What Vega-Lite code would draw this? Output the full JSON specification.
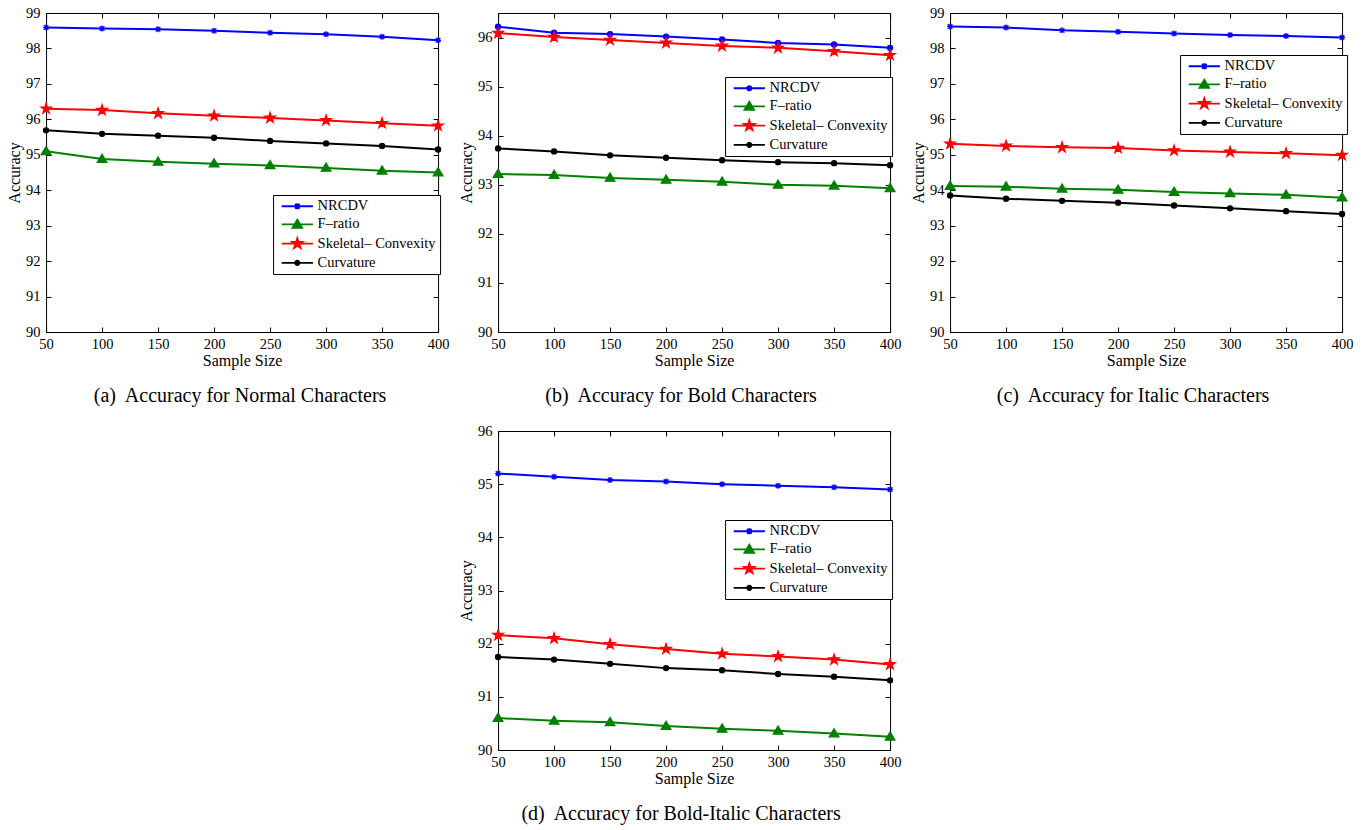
{
  "$schema": "https://vega.github.io/schema/vega-lite/v6.json",
  "background": "white",
  "padding": {"top": 5, "left": 6, "right": 5, "bottom": 5},
  "datasets": {
    "acc": [
      {"panel": "a", "series": "NRCDV", "size": 50, "accuracy": 98.59},
      {"panel": "a", "series": "NRCDV", "size": 100, "accuracy": 98.56},
      {"panel": "a", "series": "NRCDV", "size": 150, "accuracy": 98.54},
      {"panel": "a", "series": "NRCDV", "size": 200, "accuracy": 98.50},
      {"panel": "a", "series": "NRCDV", "size": 250, "accuracy": 98.44},
      {"panel": "a", "series": "NRCDV", "size": 300, "accuracy": 98.40},
      {"panel": "a", "series": "NRCDV", "size": 350, "accuracy": 98.33},
      {"panel": "a", "series": "NRCDV", "size": 400, "accuracy": 98.23},
      {"panel": "a", "series": "F–ratio", "size": 50, "accuracy": 95.10},
      {"panel": "a", "series": "F–ratio", "size": 100, "accuracy": 94.88},
      {"panel": "a", "series": "F–ratio", "size": 150, "accuracy": 94.80},
      {"panel": "a", "series": "F–ratio", "size": 200, "accuracy": 94.75},
      {"panel": "a", "series": "F–ratio", "size": 250, "accuracy": 94.70},
      {"panel": "a", "series": "F–ratio", "size": 300, "accuracy": 94.63},
      {"panel": "a", "series": "F–ratio", "size": 350, "accuracy": 94.55},
      {"panel": "a", "series": "F–ratio", "size": 400, "accuracy": 94.50},
      {"panel": "a", "series": "Skeletal– Convexity", "size": 50, "accuracy": 96.30},
      {"panel": "a", "series": "Skeletal– Convexity", "size": 100, "accuracy": 96.26},
      {"panel": "a", "series": "Skeletal– Convexity", "size": 150, "accuracy": 96.17},
      {"panel": "a", "series": "Skeletal– Convexity", "size": 200, "accuracy": 96.10},
      {"panel": "a", "series": "Skeletal– Convexity", "size": 250, "accuracy": 96.04},
      {"panel": "a", "series": "Skeletal– Convexity", "size": 300, "accuracy": 95.97},
      {"panel": "a", "series": "Skeletal– Convexity", "size": 350, "accuracy": 95.89},
      {"panel": "a", "series": "Skeletal– Convexity", "size": 400, "accuracy": 95.82},
      {"panel": "a", "series": "Curvature", "size": 50, "accuracy": 95.69},
      {"panel": "a", "series": "Curvature", "size": 100, "accuracy": 95.59},
      {"panel": "a", "series": "Curvature", "size": 150, "accuracy": 95.54},
      {"panel": "a", "series": "Curvature", "size": 200, "accuracy": 95.48},
      {"panel": "a", "series": "Curvature", "size": 250, "accuracy": 95.39},
      {"panel": "a", "series": "Curvature", "size": 300, "accuracy": 95.32},
      {"panel": "a", "series": "Curvature", "size": 350, "accuracy": 95.25},
      {"panel": "a", "series": "Curvature", "size": 400, "accuracy": 95.15},

      {"panel": "b", "series": "NRCDV", "size": 50, "accuracy": 96.22},
      {"panel": "b", "series": "NRCDV", "size": 100, "accuracy": 96.10},
      {"panel": "b", "series": "NRCDV", "size": 150, "accuracy": 96.07},
      {"panel": "b", "series": "NRCDV", "size": 200, "accuracy": 96.02},
      {"panel": "b", "series": "NRCDV", "size": 250, "accuracy": 95.96},
      {"panel": "b", "series": "NRCDV", "size": 300, "accuracy": 95.89},
      {"panel": "b", "series": "NRCDV", "size": 350, "accuracy": 95.86},
      {"panel": "b", "series": "NRCDV", "size": 400, "accuracy": 95.79},
      {"panel": "b", "series": "F–ratio", "size": 50, "accuracy": 93.22},
      {"panel": "b", "series": "F–ratio", "size": 100, "accuracy": 93.20},
      {"panel": "b", "series": "F–ratio", "size": 150, "accuracy": 93.14},
      {"panel": "b", "series": "F–ratio", "size": 200, "accuracy": 93.10},
      {"panel": "b", "series": "F–ratio", "size": 250, "accuracy": 93.06},
      {"panel": "b", "series": "F–ratio", "size": 300, "accuracy": 93.00},
      {"panel": "b", "series": "F–ratio", "size": 350, "accuracy": 92.98},
      {"panel": "b", "series": "F–ratio", "size": 400, "accuracy": 92.93},
      {"panel": "b", "series": "Skeletal– Convexity", "size": 50, "accuracy": 96.09},
      {"panel": "b", "series": "Skeletal– Convexity", "size": 100, "accuracy": 96.01},
      {"panel": "b", "series": "Skeletal– Convexity", "size": 150, "accuracy": 95.95},
      {"panel": "b", "series": "Skeletal– Convexity", "size": 200, "accuracy": 95.89},
      {"panel": "b", "series": "Skeletal– Convexity", "size": 250, "accuracy": 95.83},
      {"panel": "b", "series": "Skeletal– Convexity", "size": 300, "accuracy": 95.79},
      {"panel": "b", "series": "Skeletal– Convexity", "size": 350, "accuracy": 95.72},
      {"panel": "b", "series": "Skeletal– Convexity", "size": 400, "accuracy": 95.64},
      {"panel": "b", "series": "Curvature", "size": 50, "accuracy": 93.74},
      {"panel": "b", "series": "Curvature", "size": 100, "accuracy": 93.68},
      {"panel": "b", "series": "Curvature", "size": 150, "accuracy": 93.60},
      {"panel": "b", "series": "Curvature", "size": 200, "accuracy": 93.55},
      {"panel": "b", "series": "Curvature", "size": 250, "accuracy": 93.50},
      {"panel": "b", "series": "Curvature", "size": 300, "accuracy": 93.46},
      {"panel": "b", "series": "Curvature", "size": 350, "accuracy": 93.44},
      {"panel": "b", "series": "Curvature", "size": 400, "accuracy": 93.40},

      {"panel": "c", "series": "NRCDV", "size": 50, "accuracy": 98.62},
      {"panel": "c", "series": "NRCDV", "size": 100, "accuracy": 98.59},
      {"panel": "c", "series": "NRCDV", "size": 150, "accuracy": 98.51},
      {"panel": "c", "series": "NRCDV", "size": 200, "accuracy": 98.47},
      {"panel": "c", "series": "NRCDV", "size": 250, "accuracy": 98.42},
      {"panel": "c", "series": "NRCDV", "size": 300, "accuracy": 98.38},
      {"panel": "c", "series": "NRCDV", "size": 350, "accuracy": 98.35},
      {"panel": "c", "series": "NRCDV", "size": 400, "accuracy": 98.31},
      {"panel": "c", "series": "F–ratio", "size": 50, "accuracy": 94.12},
      {"panel": "c", "series": "F–ratio", "size": 100, "accuracy": 94.10},
      {"panel": "c", "series": "F–ratio", "size": 150, "accuracy": 94.04},
      {"panel": "c", "series": "F–ratio", "size": 200, "accuracy": 94.01},
      {"panel": "c", "series": "F–ratio", "size": 250, "accuracy": 93.95},
      {"panel": "c", "series": "F–ratio", "size": 300, "accuracy": 93.91},
      {"panel": "c", "series": "F–ratio", "size": 350, "accuracy": 93.87},
      {"panel": "c", "series": "F–ratio", "size": 400, "accuracy": 93.79},
      {"panel": "c", "series": "Skeletal– Convexity", "size": 50, "accuracy": 95.31},
      {"panel": "c", "series": "Skeletal– Convexity", "size": 100, "accuracy": 95.25},
      {"panel": "c", "series": "Skeletal– Convexity", "size": 150, "accuracy": 95.21},
      {"panel": "c", "series": "Skeletal– Convexity", "size": 200, "accuracy": 95.19},
      {"panel": "c", "series": "Skeletal– Convexity", "size": 250, "accuracy": 95.12},
      {"panel": "c", "series": "Skeletal– Convexity", "size": 300, "accuracy": 95.08},
      {"panel": "c", "series": "Skeletal– Convexity", "size": 350, "accuracy": 95.04},
      {"panel": "c", "series": "Skeletal– Convexity", "size": 400, "accuracy": 94.99},
      {"panel": "c", "series": "Curvature", "size": 50, "accuracy": 93.85},
      {"panel": "c", "series": "Curvature", "size": 100, "accuracy": 93.76},
      {"panel": "c", "series": "Curvature", "size": 150, "accuracy": 93.70},
      {"panel": "c", "series": "Curvature", "size": 200, "accuracy": 93.65},
      {"panel": "c", "series": "Curvature", "size": 250, "accuracy": 93.57},
      {"panel": "c", "series": "Curvature", "size": 300, "accuracy": 93.49},
      {"panel": "c", "series": "Curvature", "size": 350, "accuracy": 93.41},
      {"panel": "c", "series": "Curvature", "size": 400, "accuracy": 93.33},

      {"panel": "d", "series": "NRCDV", "size": 50, "accuracy": 95.20},
      {"panel": "d", "series": "NRCDV", "size": 100, "accuracy": 95.14},
      {"panel": "d", "series": "NRCDV", "size": 150, "accuracy": 95.08},
      {"panel": "d", "series": "NRCDV", "size": 200, "accuracy": 95.05},
      {"panel": "d", "series": "NRCDV", "size": 250, "accuracy": 95.00},
      {"panel": "d", "series": "NRCDV", "size": 300, "accuracy": 94.97},
      {"panel": "d", "series": "NRCDV", "size": 350, "accuracy": 94.94},
      {"panel": "d", "series": "NRCDV", "size": 400, "accuracy": 94.90},
      {"panel": "d", "series": "F–ratio", "size": 50, "accuracy": 90.60},
      {"panel": "d", "series": "F–ratio", "size": 100, "accuracy": 90.55},
      {"panel": "d", "series": "F–ratio", "size": 150, "accuracy": 90.52},
      {"panel": "d", "series": "F–ratio", "size": 200, "accuracy": 90.45},
      {"panel": "d", "series": "F–ratio", "size": 250, "accuracy": 90.40},
      {"panel": "d", "series": "F–ratio", "size": 300, "accuracy": 90.36},
      {"panel": "d", "series": "F–ratio", "size": 350, "accuracy": 90.31},
      {"panel": "d", "series": "F–ratio", "size": 400, "accuracy": 90.25},
      {"panel": "d", "series": "Skeletal– Convexity", "size": 50, "accuracy": 92.16},
      {"panel": "d", "series": "Skeletal– Convexity", "size": 100, "accuracy": 92.10},
      {"panel": "d", "series": "Skeletal– Convexity", "size": 150, "accuracy": 91.99},
      {"panel": "d", "series": "Skeletal– Convexity", "size": 200, "accuracy": 91.90},
      {"panel": "d", "series": "Skeletal– Convexity", "size": 250, "accuracy": 91.81},
      {"panel": "d", "series": "Skeletal– Convexity", "size": 300, "accuracy": 91.76},
      {"panel": "d", "series": "Skeletal– Convexity", "size": 350, "accuracy": 91.70},
      {"panel": "d", "series": "Skeletal– Convexity", "size": 400, "accuracy": 91.61},
      {"panel": "d", "series": "Curvature", "size": 50, "accuracy": 91.75},
      {"panel": "d", "series": "Curvature", "size": 100, "accuracy": 91.70},
      {"panel": "d", "series": "Curvature", "size": 150, "accuracy": 91.62},
      {"panel": "d", "series": "Curvature", "size": 200, "accuracy": 91.54},
      {"panel": "d", "series": "Curvature", "size": 250, "accuracy": 91.50},
      {"panel": "d", "series": "Curvature", "size": 300, "accuracy": 91.43},
      {"panel": "d", "series": "Curvature", "size": 350, "accuracy": 91.38},
      {"panel": "d", "series": "Curvature", "size": 400, "accuracy": 91.31}
    ]
  },
  "data": {"name": "acc"},
  "config": {
    "view": {"stroke": null},
    "axis": {"labelColor": "black", "titleColor": "black", "titleFontWeight": "normal", "domainColor": "black", "domainWidth": 1, "tickColor": "black", "tickSize": -5, "grid": false},
    "axisX": {"labelPadding": 10, "titlePadding": 2},
    "axisY": {"labelPadding": 11, "titlePadding": 3},
    "title": {"orient": "bottom", "font": "Liberation Serif", "fontSize": 20, "fontWeight": "normal", "color": "black", "offset": 17, "anchor": "middle"}
  },
  "spacing": 17,
  "center": true,
  "resolve": {"scale": {"color": "independent", "fill": "independent", "stroke": "independent", "shape": "independent"}, "legend": {"color": "independent", "fill": "independent", "stroke": "independent", "shape": "independent"}},
  "vconcat": [
    {
      "spacing": 9,
      "resolve": {"scale": {"color": "independent", "fill": "independent", "stroke": "independent", "shape": "independent"}, "legend": {"color": "independent", "fill": "independent", "stroke": "independent", "shape": "independent"}},
      "hconcat": [
        {
          "width": 392, "height": 319,
          "title": {"text": "(a)\u00a0 Accuracy for Normal Characters", "dx": -2},
          "transform": [{"filter": "datum.panel === 'a'"}],
          "resolve": {"scale": {"shape": "independent", "color": "independent"}},
          "layer": [
            {
              "mark": {"type": "line", "strokeWidth": 2},
              "encoding": {
                "x": {"field": "size", "type": "quantitative", "scale": {"domain": [50, 400], "nice": false, "zero": false}, "axis": {"orient": "bottom", "values": [50, 100, 150, 200, 250, 300, 350, 400], "labelFlush": false, "title": "Sample Size", "labelFont": "Liberation Serif", "labelFontSize": 14.5, "titleFont": "Liberation Serif", "titleFontSize": 16}},
                "y": {"field": "accuracy", "type": "quantitative", "scale": {"domain": [90, 99], "nice": false, "zero": false}, "axis": {"orient": "left", "values": [90, 91, 92, 93, 94, 95, 96, 97, 98, 99], "labelFlush": false, "title": "Accuracy", "labelFont": "Liberation Serif", "labelFontSize": 14.5, "titleFont": "Liberation Serif", "titleFontSize": 16}},
                "color": {"field": "series", "type": "nominal", "scale": {"domain": ["Curvature", "F–ratio", "NRCDV", "Skeletal– Convexity"], "range": ["#000000", "#008000", "#0000ff", "#ff0000"]}, "legend": null}
              }
            },
            {
              "mark": {"type": "point", "filled": true, "opacity": 1, "size": 144, "strokeWidth": 1.3},
              "encoding": {
                "x": {"field": "size", "type": "quantitative", "scale": {"domain": [50, 400], "nice": false, "zero": false}, "axis": {"orient": "top", "values": [50, 100, 150, 200, 250, 300, 350, 400], "labels": false, "title": null}},
                "y": {"field": "accuracy", "type": "quantitative", "scale": {"domain": [90, 99], "nice": false, "zero": false}, "axis": {"orient": "right", "values": [90, 91, 92, 93, 94, 95, 96, 97, 98, 99], "labels": false, "title": null}},
                "fill": {"field": "series", "type": "nominal", "scale": {"domain": ["Curvature", "F–ratio", "NRCDV", "Skeletal– Convexity"], "range": ["#000000", "#008000", "#0000ff", "#ff0000"]}, "legend": null},
                "stroke": {"field": "series", "type": "nominal", "scale": {"domain": ["Curvature", "F–ratio", "NRCDV", "Skeletal– Convexity"], "range": ["#000000", "#008000", "#0000ff", "#ff0000"]}, "legend": null},
                "shape": {"field": "series", "type": "nominal", "scale": {"domain": ["Curvature", "F–ratio", "NRCDV", "Skeletal– Convexity"], "range": ["M0.42,0A0.42,0.42,0,1,1,-0.42,0A0.42,0.42,0,1,1,0.42,0Z", "M0,-0.8L0.8,0.55L-0.8,0.55Z", "M-0.5,0L0.5,0M0,-0.5L0,0.5M-0.38,-0.38L0.38,0.38M-0.38,0.38L0.38,-0.38", "M0,-0.9L0.203,-0.278L0.856,-0.278L0.327,0.106L0.529,0.728L0,0.344L-0.529,0.728L-0.327,0.106L-0.856,-0.278L-0.203,-0.278Z"]}, "legend": null}
              }
            },
            {
              "transform": [{"filter": "false"}],
              "mark": {"type": "point", "filled": false, "opacity": 1, "size": 144, "strokeWidth": 1.8},
              "encoding": {
                "color": {"field": "series", "type": "nominal", "scale": {"domain": ["NRCDV", "F–ratio", "Skeletal– Convexity", "Curvature"], "range": ["#0000ff", "#008000", "#ff0000", "#000000"]},
                  "legend": {"title": null, "orient": "none", "legendX": 227, "legendY": 182, "labelFont": "Liberation Serif", "labelFontSize": 14.5, "labelColor": "black", "fillColor": "white", "strokeColor": "black", "padding": 4, "symbolSize": 144, "symbolStrokeWidth": 1.8, "rowPadding": 2.2, "symbolOffset": 13, "labelOffset": 13}},
                "shape": {"field": "series", "type": "nominal", "scale": {"domain": ["NRCDV", "F–ratio", "Skeletal– Convexity", "Curvature"], "range": ["M-2.6,0L2.6,0M0,-0.5L0,0.5M-0.38,-0.38L0.38,0.38M-0.38,0.38L0.38,-0.38", "M-2.6,0L2.6,0M0,-0.8L0.8,0.55L-0.8,0.55ZM0,-0.4L0.44,0.35L-0.44,0.35ZM0,-0.08L0.16,0.19L-0.16,0.19Z", "M-2.6,0L2.6,0M0,-0.9L0.203,-0.278L0.856,-0.278L0.327,0.106L0.529,0.728L0,0.344L-0.529,0.728L-0.327,0.106L-0.856,-0.278L-0.203,-0.278ZM0,-0.55L0.124,-0.17L0.523,-0.17L0.2,0.065L0.323,0.445L0,0.21L-0.323,0.445L-0.2,0.065L-0.523,-0.17L-0.124,-0.17ZM0,-0.25L0.056,-0.077L0.238,-0.077L0.091,0.03L0.147,0.202L0,0.096L-0.147,0.202L-0.091,0.03L-0.238,-0.077L-0.056,-0.077Z", "M-2.6,0L2.6,0M0.36,0A0.36,0.36,0,1,1,-0.36,0A0.36,0.36,0,1,1,0.36,0ZM0.12,0A0.12,0.12,0,1,1,-0.12,0A0.12,0.12,0,1,1,0.12,0Z"]},
                  "legend": {"title": null, "orient": "none", "legendX": 227, "legendY": 182, "labelFont": "Liberation Serif", "labelFontSize": 14.5, "labelColor": "black", "fillColor": "white", "strokeColor": "black", "padding": 4, "symbolSize": 144, "symbolStrokeWidth": 1.8, "rowPadding": 2.2, "symbolOffset": 13, "labelOffset": 13}}
              }
            }
          ]
        },
        {
          "width": 392, "height": 319,
          "title": {"text": "(b)\u00a0 Accuracy for Bold Characters", "dx": -13},
          "transform": [{"filter": "datum.panel === 'b'"}],
          "resolve": {"scale": {"shape": "independent", "color": "independent"}},
          "layer": [
            {
              "mark": {"type": "line", "strokeWidth": 2},
              "encoding": {
                "x": {"field": "size", "type": "quantitative", "scale": {"domain": [50, 400], "nice": false, "zero": false}, "axis": {"orient": "bottom", "values": [50, 100, 150, 200, 250, 300, 350, 400], "labelFlush": false, "title": "Sample Size", "labelFont": "Liberation Serif", "labelFontSize": 14.5, "titleFont": "Liberation Serif", "titleFontSize": 16}},
                "y": {"field": "accuracy", "type": "quantitative", "scale": {"domain": [90, 96.5], "nice": false, "zero": false}, "axis": {"orient": "left", "values": [90, 91, 92, 93, 94, 95, 96], "labelFlush": false, "title": "Accuracy", "labelFont": "Liberation Serif", "labelFontSize": 14.5, "titleFont": "Liberation Serif", "titleFontSize": 16}},
                "color": {"field": "series", "type": "nominal", "scale": {"domain": ["Curvature", "F–ratio", "NRCDV", "Skeletal– Convexity"], "range": ["#000000", "#008000", "#0000ff", "#ff0000"]}, "legend": null}
              }
            },
            {
              "mark": {"type": "point", "filled": true, "opacity": 1, "size": 144, "strokeWidth": 1.3},
              "encoding": {
                "x": {"field": "size", "type": "quantitative", "scale": {"domain": [50, 400], "nice": false, "zero": false}, "axis": {"orient": "top", "values": [50, 100, 150, 200, 250, 300, 350, 400], "labels": false, "title": null}},
                "y": {"field": "accuracy", "type": "quantitative", "scale": {"domain": [90, 96.5], "nice": false, "zero": false}, "axis": {"orient": "right", "values": [90, 91, 92, 93, 94, 95, 96], "labels": false, "title": null}},
                "fill": {"field": "series", "type": "nominal", "scale": {"domain": ["Curvature", "F–ratio", "NRCDV", "Skeletal– Convexity"], "range": ["#000000", "#008000", "#0000ff", "#ff0000"]}, "legend": null},
                "stroke": {"field": "series", "type": "nominal", "scale": {"domain": ["Curvature", "F–ratio", "NRCDV", "Skeletal– Convexity"], "range": ["#000000", "#008000", "#0000ff", "#ff0000"]}, "legend": null},
                "shape": {"field": "series", "type": "nominal", "scale": {"domain": ["Curvature", "F–ratio", "NRCDV", "Skeletal– Convexity"], "range": ["M0.42,0A0.42,0.42,0,1,1,-0.42,0A0.42,0.42,0,1,1,0.42,0Z", "M0,-0.8L0.8,0.55L-0.8,0.55Z", "M0.42,0A0.42,0.42,0,1,1,-0.42,0A0.42,0.42,0,1,1,0.42,0Z", "M0,-0.9L0.203,-0.278L0.856,-0.278L0.327,0.106L0.529,0.728L0,0.344L-0.529,0.728L-0.327,0.106L-0.856,-0.278L-0.203,-0.278Z"]}, "legend": null}
              }
            },
            {
              "transform": [{"filter": "false"}],
              "mark": {"type": "point", "filled": false, "opacity": 1, "size": 144, "strokeWidth": 1.8},
              "encoding": {
                "color": {"field": "series", "type": "nominal", "scale": {"domain": ["NRCDV", "F–ratio", "Skeletal– Convexity", "Curvature"], "range": ["#0000ff", "#008000", "#ff0000", "#000000"]},
                  "legend": {"title": null, "orient": "none", "legendX": 227, "legendY": 64, "labelFont": "Liberation Serif", "labelFontSize": 14.5, "labelColor": "black", "fillColor": "white", "strokeColor": "black", "padding": 4, "symbolSize": 144, "symbolStrokeWidth": 1.8, "rowPadding": 2.2, "symbolOffset": 13, "labelOffset": 13}},
                "shape": {"field": "series", "type": "nominal", "scale": {"domain": ["NRCDV", "F–ratio", "Skeletal– Convexity", "Curvature"], "range": ["M-2.6,0L2.6,0M0.36,0A0.36,0.36,0,1,1,-0.36,0A0.36,0.36,0,1,1,0.36,0ZM0.12,0A0.12,0.12,0,1,1,-0.12,0A0.12,0.12,0,1,1,0.12,0Z", "M-2.6,0L2.6,0M0,-0.8L0.8,0.55L-0.8,0.55ZM0,-0.4L0.44,0.35L-0.44,0.35ZM0,-0.08L0.16,0.19L-0.16,0.19Z", "M-2.6,0L2.6,0M0,-0.9L0.203,-0.278L0.856,-0.278L0.327,0.106L0.529,0.728L0,0.344L-0.529,0.728L-0.327,0.106L-0.856,-0.278L-0.203,-0.278ZM0,-0.55L0.124,-0.17L0.523,-0.17L0.2,0.065L0.323,0.445L0,0.21L-0.323,0.445L-0.2,0.065L-0.523,-0.17L-0.124,-0.17ZM0,-0.25L0.056,-0.077L0.238,-0.077L0.091,0.03L0.147,0.202L0,0.096L-0.147,0.202L-0.091,0.03L-0.238,-0.077L-0.056,-0.077Z", "M-2.6,0L2.6,0M0.36,0A0.36,0.36,0,1,1,-0.36,0A0.36,0.36,0,1,1,0.36,0ZM0.12,0A0.12,0.12,0,1,1,-0.12,0A0.12,0.12,0,1,1,0.12,0Z"]},
                  "legend": {"title": null, "orient": "none", "legendX": 227, "legendY": 64, "labelFont": "Liberation Serif", "labelFontSize": 14.5, "labelColor": "black", "fillColor": "white", "strokeColor": "black", "padding": 4, "symbolSize": 144, "symbolStrokeWidth": 1.8, "rowPadding": 2.2, "symbolOffset": 13, "labelOffset": 13}}
              }
            }
          ]
        },
        {
          "width": 392, "height": 319,
          "title": {"text": "(c)\u00a0 Accuracy for Italic Characters", "dx": -13},
          "transform": [{"filter": "datum.panel === 'c'"}],
          "resolve": {"scale": {"shape": "independent", "color": "independent"}},
          "layer": [
            {
              "mark": {"type": "line", "strokeWidth": 2},
              "encoding": {
                "x": {"field": "size", "type": "quantitative", "scale": {"domain": [50, 400], "nice": false, "zero": false}, "axis": {"orient": "bottom", "values": [50, 100, 150, 200, 250, 300, 350, 400], "labelFlush": false, "title": "Sample Size", "labelFont": "Liberation Serif", "labelFontSize": 14.5, "titleFont": "Liberation Serif", "titleFontSize": 16}},
                "y": {"field": "accuracy", "type": "quantitative", "scale": {"domain": [90, 99], "nice": false, "zero": false}, "axis": {"orient": "left", "values": [90, 91, 92, 93, 94, 95, 96, 97, 98, 99], "labelFlush": false, "title": "Accuracy", "labelFont": "Liberation Serif", "labelFontSize": 14.5, "titleFont": "Liberation Serif", "titleFontSize": 16}},
                "color": {"field": "series", "type": "nominal", "scale": {"domain": ["Curvature", "F–ratio", "NRCDV", "Skeletal– Convexity"], "range": ["#000000", "#008000", "#0000ff", "#ff0000"]}, "legend": null}
              }
            },
            {
              "mark": {"type": "point", "filled": true, "opacity": 1, "size": 144, "strokeWidth": 1.3},
              "encoding": {
                "x": {"field": "size", "type": "quantitative", "scale": {"domain": [50, 400], "nice": false, "zero": false}, "axis": {"orient": "top", "values": [50, 100, 150, 200, 250, 300, 350, 400], "labels": false, "title": null}},
                "y": {"field": "accuracy", "type": "quantitative", "scale": {"domain": [90, 99], "nice": false, "zero": false}, "axis": {"orient": "right", "values": [90, 91, 92, 93, 94, 95, 96, 97, 98, 99], "labels": false, "title": null}},
                "fill": {"field": "series", "type": "nominal", "scale": {"domain": ["Curvature", "F–ratio", "NRCDV", "Skeletal– Convexity"], "range": ["#000000", "#008000", "#0000ff", "#ff0000"]}, "legend": null},
                "stroke": {"field": "series", "type": "nominal", "scale": {"domain": ["Curvature", "F–ratio", "NRCDV", "Skeletal– Convexity"], "range": ["#000000", "#008000", "#0000ff", "#ff0000"]}, "legend": null},
                "shape": {"field": "series", "type": "nominal", "scale": {"domain": ["Curvature", "F–ratio", "NRCDV", "Skeletal– Convexity"], "range": ["M0.42,0A0.42,0.42,0,1,1,-0.42,0A0.42,0.42,0,1,1,0.42,0Z", "M0,-0.8L0.8,0.55L-0.8,0.55Z", "M-0.5,0L0.5,0M0,-0.5L0,0.5M-0.38,-0.38L0.38,0.38M-0.38,0.38L0.38,-0.38", "M0,-0.9L0.203,-0.278L0.856,-0.278L0.327,0.106L0.529,0.728L0,0.344L-0.529,0.728L-0.327,0.106L-0.856,-0.278L-0.203,-0.278Z"]}, "legend": null}
              }
            },
            {
              "transform": [{"filter": "false"}],
              "mark": {"type": "point", "filled": false, "opacity": 1, "size": 144, "strokeWidth": 1.8},
              "encoding": {
                "color": {"field": "series", "type": "nominal", "scale": {"domain": ["NRCDV", "F–ratio", "Skeletal– Convexity", "Curvature"], "range": ["#0000ff", "#008000", "#ff0000", "#000000"]},
                  "legend": {"title": null, "orient": "none", "legendX": 230, "legendY": 42, "labelFont": "Liberation Serif", "labelFontSize": 14.5, "labelColor": "black", "fillColor": "white", "strokeColor": "black", "padding": 4, "symbolSize": 144, "symbolStrokeWidth": 1.8, "rowPadding": 2.2, "symbolOffset": 13, "labelOffset": 13}},
                "shape": {"field": "series", "type": "nominal", "scale": {"domain": ["NRCDV", "F–ratio", "Skeletal– Convexity", "Curvature"], "range": ["M-2.6,0L2.6,0M0,-0.5L0,0.5M-0.38,-0.38L0.38,0.38M-0.38,0.38L0.38,-0.38", "M-2.6,0L2.6,0M0,-0.8L0.8,0.55L-0.8,0.55ZM0,-0.4L0.44,0.35L-0.44,0.35ZM0,-0.08L0.16,0.19L-0.16,0.19Z", "M-2.6,0L2.6,0M0,-0.9L0.203,-0.278L0.856,-0.278L0.327,0.106L0.529,0.728L0,0.344L-0.529,0.728L-0.327,0.106L-0.856,-0.278L-0.203,-0.278ZM0,-0.55L0.124,-0.17L0.523,-0.17L0.2,0.065L0.323,0.445L0,0.21L-0.323,0.445L-0.2,0.065L-0.523,-0.17L-0.124,-0.17ZM0,-0.25L0.056,-0.077L0.238,-0.077L0.091,0.03L0.147,0.202L0,0.096L-0.147,0.202L-0.091,0.03L-0.238,-0.077L-0.056,-0.077Z", "M-2.6,0L2.6,0M0.36,0A0.36,0.36,0,1,1,-0.36,0A0.36,0.36,0,1,1,0.36,0ZM0.12,0A0.12,0.12,0,1,1,-0.12,0A0.12,0.12,0,1,1,0.12,0Z"]},
                  "legend": {"title": null, "orient": "none", "legendX": 230, "legendY": 42, "labelFont": "Liberation Serif", "labelFontSize": 14.5, "labelColor": "black", "fillColor": "white", "strokeColor": "black", "padding": 4, "symbolSize": 144, "symbolStrokeWidth": 1.8, "rowPadding": 2.2, "symbolOffset": 13, "labelOffset": 13}}
              }
            }
          ]
        }
      ]
    },
    {
      "width": 392, "height": 319,
      "title": {"text": "(d)\u00a0 Accuracy for Bold-Italic Characters", "dx": -13},
      "transform": [{"filter": "datum.panel === 'd'"}],
      "resolve": {"scale": {"shape": "independent", "color": "independent"}},
      "layer": [
        {
          "mark": {"type": "line", "strokeWidth": 2},
          "encoding": {
            "x": {"field": "size", "type": "quantitative", "scale": {"domain": [50, 400], "nice": false, "zero": false}, "axis": {"orient": "bottom", "values": [50, 100, 150, 200, 250, 300, 350, 400], "labelFlush": false, "title": "Sample Size", "labelFont": "Liberation Serif", "labelFontSize": 14.5, "titleFont": "Liberation Serif", "titleFontSize": 16}},
            "y": {"field": "accuracy", "type": "quantitative", "scale": {"domain": [90, 96], "nice": false, "zero": false}, "axis": {"orient": "left", "values": [90, 91, 92, 93, 94, 95, 96], "labelFlush": false, "title": "Accuracy", "labelFont": "Liberation Serif", "labelFontSize": 14.5, "titleFont": "Liberation Serif", "titleFontSize": 16}},
            "color": {"field": "series", "type": "nominal", "scale": {"domain": ["Curvature", "F–ratio", "NRCDV", "Skeletal– Convexity"], "range": ["#000000", "#008000", "#0000ff", "#ff0000"]}, "legend": null}
          }
        },
        {
          "mark": {"type": "point", "filled": true, "opacity": 1, "size": 144, "strokeWidth": 1.3},
          "encoding": {
            "x": {"field": "size", "type": "quantitative", "scale": {"domain": [50, 400], "nice": false, "zero": false}, "axis": {"orient": "top", "values": [50, 100, 150, 200, 250, 300, 350, 400], "labels": false, "title": null}},
            "y": {"field": "accuracy", "type": "quantitative", "scale": {"domain": [90, 96], "nice": false, "zero": false}, "axis": {"orient": "right", "values": [90, 91, 92, 93, 94, 95, 96], "labels": false, "title": null}},
            "fill": {"field": "series", "type": "nominal", "scale": {"domain": ["Curvature", "F–ratio", "NRCDV", "Skeletal– Convexity"], "range": ["#000000", "#008000", "#0000ff", "#ff0000"]}, "legend": null},
            "stroke": {"field": "series", "type": "nominal", "scale": {"domain": ["Curvature", "F–ratio", "NRCDV", "Skeletal– Convexity"], "range": ["#000000", "#008000", "#0000ff", "#ff0000"]}, "legend": null},
            "shape": {"field": "series", "type": "nominal", "scale": {"domain": ["Curvature", "F–ratio", "NRCDV", "Skeletal– Convexity"], "range": ["M0.42,0A0.42,0.42,0,1,1,-0.42,0A0.42,0.42,0,1,1,0.42,0Z", "M0,-0.8L0.8,0.55L-0.8,0.55Z", "M-0.5,0L0.5,0M0,-0.5L0,0.5M-0.38,-0.38L0.38,0.38M-0.38,0.38L0.38,-0.38", "M0,-0.9L0.203,-0.278L0.856,-0.278L0.327,0.106L0.529,0.728L0,0.344L-0.529,0.728L-0.327,0.106L-0.856,-0.278L-0.203,-0.278Z"]}, "legend": null}
          }
        },
        {
          "transform": [{"filter": "false"}],
          "mark": {"type": "point", "filled": false, "opacity": 1, "size": 144, "strokeWidth": 1.8},
          "encoding": {
            "color": {"field": "series", "type": "nominal", "scale": {"domain": ["NRCDV", "F–ratio", "Skeletal– Convexity", "Curvature"], "range": ["#0000ff", "#008000", "#ff0000", "#000000"]},
              "legend": {"title": null, "orient": "none", "legendX": 227, "legendY": 89, "labelFont": "Liberation Serif", "labelFontSize": 14.5, "labelColor": "black", "fillColor": "white", "strokeColor": "black", "padding": 4, "symbolSize": 144, "symbolStrokeWidth": 1.8, "rowPadding": 2.2, "symbolOffset": 13, "labelOffset": 13}},
            "shape": {"field": "series", "type": "nominal", "scale": {"domain": ["NRCDV", "F–ratio", "Skeletal– Convexity", "Curvature"], "range": ["M-2.6,0L2.6,0M0,-0.5L0,0.5M-0.38,-0.38L0.38,0.38M-0.38,0.38L0.38,-0.38", "M-2.6,0L2.6,0M0,-0.8L0.8,0.55L-0.8,0.55ZM0,-0.4L0.44,0.35L-0.44,0.35ZM0,-0.08L0.16,0.19L-0.16,0.19Z", "M-2.6,0L2.6,0M0,-0.9L0.203,-0.278L0.856,-0.278L0.327,0.106L0.529,0.728L0,0.344L-0.529,0.728L-0.327,0.106L-0.856,-0.278L-0.203,-0.278ZM0,-0.55L0.124,-0.17L0.523,-0.17L0.2,0.065L0.323,0.445L0,0.21L-0.323,0.445L-0.2,0.065L-0.523,-0.17L-0.124,-0.17ZM0,-0.25L0.056,-0.077L0.238,-0.077L0.091,0.03L0.147,0.202L0,0.096L-0.147,0.202L-0.091,0.03L-0.238,-0.077L-0.056,-0.077Z", "M-2.6,0L2.6,0M0.36,0A0.36,0.36,0,1,1,-0.36,0A0.36,0.36,0,1,1,0.36,0ZM0.12,0A0.12,0.12,0,1,1,-0.12,0A0.12,0.12,0,1,1,0.12,0Z"]},
              "legend": {"title": null, "orient": "none", "legendX": 227, "legendY": 89, "labelFont": "Liberation Serif", "labelFontSize": 14.5, "labelColor": "black", "fillColor": "white", "strokeColor": "black", "padding": 4, "symbolSize": 144, "symbolStrokeWidth": 1.8, "rowPadding": 2.2, "symbolOffset": 13, "labelOffset": 13}}
          }
        }
      ]
    }
  ]
}
